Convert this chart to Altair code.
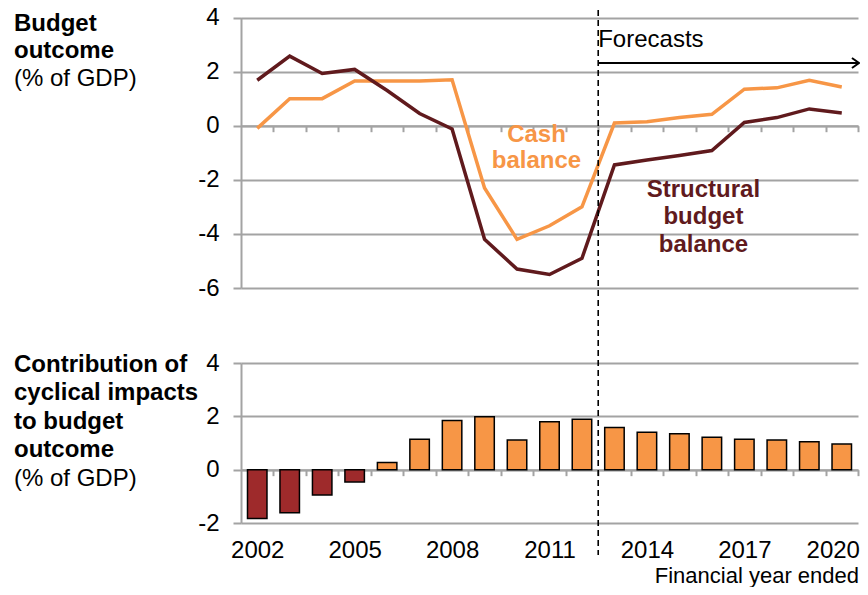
import altair as alt
import pandas as pd

# ---------------- data ----------------
years = list(range(2002, 2021))
cash_balance = [-0.1, 1.0, 1.0, 1.65, 1.65, 1.65, 1.7, -2.3, -4.2, -3.7, -3.0,
                0.1, 0.15, 0.3, 0.42, 1.35, 1.4, 1.68, 1.43]
structural_balance = [1.68, 2.57, 1.93, 2.08, 1.3, 0.45, -0.12, -4.2, -5.3, -5.5, -4.9,
                      -1.45, -1.27, -1.1, -0.92, 0.12, 0.3, 0.62, 0.47]
cyclical_contribution = [-1.83, -1.62, -0.95, -0.46, 0.27, 1.14, 1.84, 1.98, 1.11, 1.8, 1.89,
                         1.58, 1.4, 1.35, 1.22, 1.14, 1.11, 1.05, 0.96]
series_names = ["Cash balance", "Structural budget balance"]
label_years = [2002, 2005, 2008, 2011, 2014, 2017, 2020]
top_ticks = [-6, -4, -2, 0, 2, 4]
bottom_ticks = [-2, 0, 2, 4]
forecast_start = 2012.5
arrow_end = 2020.53

# ---------------- style ----------------
FONT = "Liberation Sans"
FS = 24
GRAY = "#A3A3A3"
ORANGE = "#F79646"
MAROON = "#601A1D"
RED = "#9E2A2B"

W, H = 617, 507
TOP_RANGE = [272, 1.5]
BOT_RANGE = [507, 347]
TOP_ZERO = TOP_RANGE[0] - 0.6 * (TOP_RANGE[0] - TOP_RANGE[1])
BOT_ZERO = BOT_RANGE[0] - (2 / 6) * (BOT_RANGE[0] - BOT_RANGE[1])

lines_df = pd.DataFrame({
    "year": years * 2,
    "value": cash_balance + structural_balance,
    "series": [series_names[0]] * len(years) + [series_names[1]] * len(years),
})
bars_df = pd.DataFrame({"year": years, "value": cyclical_contribution})
boundaries = [y + 0.5 for y in years]

xscale = alt.Scale(domain=[years[0] - 0.5, years[-1] + 0.5], nice=False, zero=False)


def tick_axis(offset):
    return alt.Axis(orient="bottom", offset=offset, values=boundaries, labels=False,
                    ticks=True, tickSize=6, tickColor=GRAY, tickWidth=2,
                    domain=True, domainColor=GRAY, domainWidth=2, grid=False, title=None)


def y_axis(vals):
    return alt.Axis(orient="left", values=vals, grid=True, gridColor=GRAY, gridWidth=2,
                    domain=True, domainColor=GRAY, domainWidth=2,
                    ticks=True, tickColor=GRAY, tickWidth=2, tickSize=8,
                    labelPadding=14, labelFontSize=FS, labelFont=FONT, labelColor="black",
                    labelExpr="'' + datum.value", title=None)


top = alt.Chart(lines_df).mark_line(strokeWidth=3.5).encode(
    x=alt.X("year:Q", scale=xscale, axis=tick_axis(TOP_ZERO - H)),
    y=alt.Y("value:Q", scale=alt.Scale(domain=[-6, 4], range=TOP_RANGE, nice=False, zero=False),
            axis=y_axis(top_ticks)),
    color=alt.Color("series:N", scale=alt.Scale(domain=series_names, range=[ORANGE, MAROON]),
                    legend=None),
    detail="series:N",
)

bars = alt.Chart(bars_df).transform_calculate(
    x_lo="datum.year - 0.3", x_hi="datum.year + 0.3"
).mark_bar(stroke="black", strokeWidth=1.5).encode(
    x=alt.X("x_lo:Q", scale=xscale, axis=tick_axis(BOT_ZERO - H)),
    x2="x_hi:Q",
    y=alt.Y("value:Q", scale=alt.Scale(domain=[-2, 4], range=BOT_RANGE, nice=False, zero=False),
            axis=y_axis(bottom_ticks)),
    y2=alt.datum(0),
    color=alt.condition("datum.value < 0", alt.value(RED), alt.value(ORANGE)),
)

rule = alt.Chart(pd.DataFrame({"x": [forecast_start]})).mark_rule(
    strokeDash=[6, 4], strokeWidth=1.6, color="black"
).encode(
    x=alt.X("x:Q", scale=xscale,
            axis=alt.Axis(orient="bottom", offset=0, values=label_years, ticks=False,
                          domain=False, grid=False, labelPadding=15.5, labelFontSize=FS,
                          labelFont=FONT, labelColor="black", labelOverlap=False,
                          labelFlush=False, labelExpr="'' + datum.value", title=None,
                          labelOffset={"condition": {"test": "datum.value == 2020", "value": -9},
                                       "value": 0})),
    y=alt.value(-16),
    y2=alt.value(539),
)

arrow_df = pd.DataFrame({"x": [forecast_start], "x2": [arrow_end], "label": ["Forecasts"]})
arrow = alt.Chart(arrow_df).mark_rule(color="black", strokeWidth=2).encode(
    x=alt.X("x:Q", scale=xscale, axis=None), x2="x2:Q", y=alt.value(47)
)
arrowhead = alt.Chart(arrow_df).mark_point(
    shape="M -1.4 -1 L 0 0 L -1.4 1", filled=False, stroke="black", strokeWidth=2,
    size=100, opacity=1
).encode(x=alt.X("x2:Q", scale=xscale, axis=None), y=alt.value(47))
forecast_text = alt.Chart(arrow_df).mark_text(
    align="left", baseline="alphabetic", fontSize=FS, font=FONT, color="black"
).encode(x=alt.X("x:Q", scale=xscale, axis=None), y=alt.value(31), text="label:N")

cash_lbl = alt.Chart(pd.DataFrame({"x": [2010.6]})).mark_text(
    text="Cash\nbalance", lineBreak="\n", lineHeight=26.5, align="center",
    baseline="alphabetic", fontSize=FS, font=FONT, fontWeight="bold", color=ORANGE
).encode(x=alt.X("x:Q", scale=xscale, axis=None), y=alt.value(125.7))

struct_lbl = alt.Chart(pd.DataFrame({"x": [2015.74]})).mark_text(
    text="Structural\nbudget\nbalance", lineBreak="\n", lineHeight=27.5, align="center",
    baseline="alphabetic", fontSize=FS, font=FONT, fontWeight="bold", color=MAROON
).encode(x=alt.X("x:Q", scale=xscale, axis=None), y=alt.value(180.7))


def side_text(txt, y, bold, lh):
    return alt.Chart(pd.DataFrame({"a": [0]})).mark_text(
        text=txt, lineBreak="\n", lineHeight=lh, align="left", baseline="alphabetic",
        fontSize=FS, font=FONT, fontWeight="bold" if bold else "normal", color="black"
    ).encode(x=alt.value(-227), y=alt.value(y))


t1 = side_text("Budget\noutcome", 14.5, True, 27.5)
t2 = side_text("(% of GDP)", 69.5, False, 27.5)
t3 = side_text("Contribution of\ncyclical impacts\nto budget\noutcome", 356, True, 28.4)
t4 = side_text("(% of GDP)", 469.6, False, 28.4)

fy = alt.Chart(pd.DataFrame({"a": [0]})).mark_text(
    text="Financial year ended", align="right", baseline="alphabetic",
    fontSize=22, font=FONT, color="black"
).encode(x=alt.value(618), y=alt.value(566.8))

chart = alt.layer(
    top, bars, rule, arrow, arrowhead, forecast_text, cash_lbl, struct_lbl,
    t1, t2, t3, t4, fy
).resolve_scale(y="independent").resolve_axis(x="independent", y="independent").properties(
    width=W, height=H,
    autosize=alt.AutoSizeParams(type="none"),
    padding={"left": 233, "top": 8, "right": 2, "bottom": 64},
).configure_view(stroke=None)

chart.save("out.html", embed_options={"renderer": "svg", "actions": False})
